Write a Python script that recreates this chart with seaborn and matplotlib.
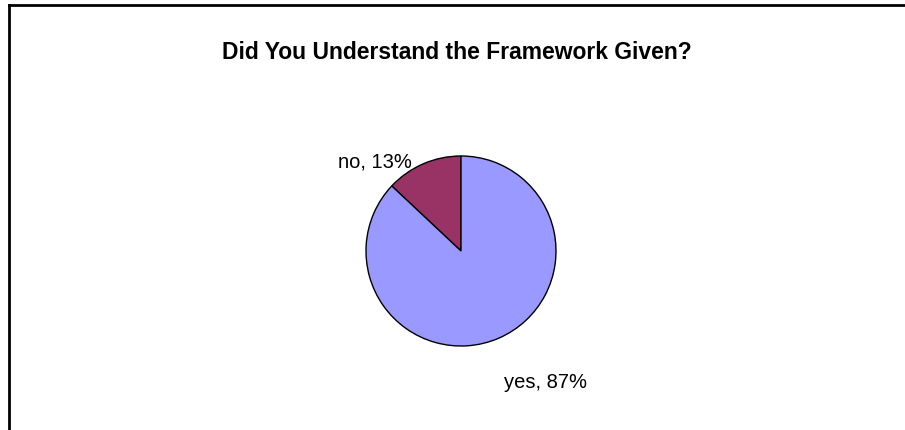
import matplotlib
matplotlib.use("Agg")
import matplotlib.pyplot as plt
from matplotlib.lines import Line2D
import seaborn as sns

categories = ["no", "yes"]
shares = [13, 87]
colors = ["#993366", "#9999FF"]
title = "Did You Understand the Framework Given?"

sns.set_theme(style="white")
plt.rcParams["font.family"] = ["Liberation Sans", "DejaVu Sans"]

W, H = 905, 431
fig = plt.figure(figsize=(W / 100, H / 100), dpi=100)
ax = fig.add_axes([0, 0, 1, 1])

# chart frame: only the top and left edges fall inside the image
fig.add_artist(Line2D([9 / W, 9 / W], [0, 1 - 6 / H], transform=fig.transFigure,
                      color="black", lw=2, solid_capstyle="projecting"))
fig.add_artist(Line2D([9 / W, 1], [1 - 6 / H, 1 - 6 / H], transform=fig.transFigure,
                      color="black", lw=2, solid_capstyle="projecting"))

cx, cy, r = 461, H - 252, 95
ax.pie(shares, colors=colors, startangle=90, counterclock=True,
       center=(cx, cy), radius=r, frame=True,
       wedgeprops=dict(edgecolor="black", linewidth=1))
ax.set_xlim(0, W)
ax.set_ylim(0, H)
ax.axis("off")

label_pos = {"no": (375, H - 160), "yes": (546, H - 381)}
for cat, val in zip(categories, shares):
    x, y = label_pos[cat]
    ax.text(x, y, f"{cat}, {val}%", ha="center", va="center_baseline",
            fontsize=14.5, color="black")

ax.text(457, H - 50, title, ha="center", va="center_baseline", fontsize=16.5,
        fontweight="bold", color="black")

fig.savefig("out.png", dpi=100)
